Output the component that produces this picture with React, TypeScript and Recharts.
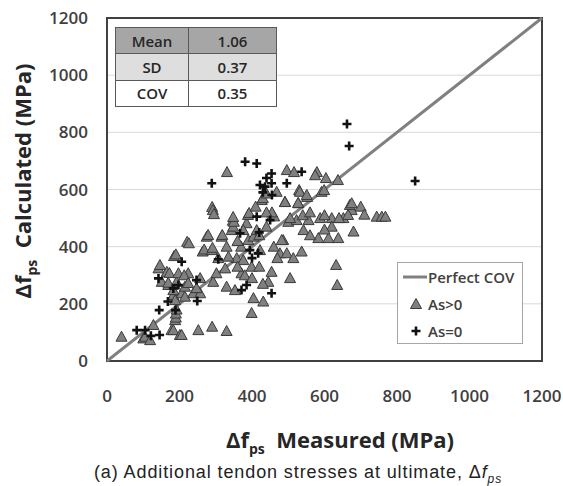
import {
  ScatterChart,
  Scatter,
  XAxis,
  YAxis,
  CartesianGrid,
  ReferenceArea,
} from "recharts";

// measured vs calculated (MPa)
const bondedPoints: [number, number][] = [
  [40, 85], [100, 79], [105, 85], [119, 73], [128, 126], [178, 108], [183, 108], [201, 91], [206, 91], [252, 108], [290, 120], [330, 105],
  [188, 143], [190, 152], [190, 166], [192, 180], [183, 231], [188, 213], [206, 237], [215, 225], [215, 260], [238, 237], [257, 237],
  [183, 248], [151, 277], [169, 266], [169, 274], [192, 277], [142, 324], [165, 312], [172, 308], [197, 307], [224, 307], [213, 300],
  [224, 273], [247, 255], [257, 290], [293, 277], [302, 307], [326, 324],
  [146, 336], [185, 367], [190, 373], [221, 417], [226, 412],
  [264, 383], [268, 390], [289, 388], [291, 396], [275, 435], [279, 441], [316, 435], [318, 441], [307, 360], [330, 400], [344, 458],
  [347, 491], [348, 470], [350, 487], [290, 539], [292, 528], [295, 514], [331, 661],
  [358, 360], [330, 260], [353, 248], [376, 353], [371, 307], [399, 168], [404, 220], [431, 208], [390, 423], [404, 435], [413, 458],
  [422, 388], [399, 330], [445, 277], [454, 312], [486, 423], [477, 377], [496, 377], [505, 290], [500, 487], [523, 493], [542, 458],
  [537, 383], [514, 360], [556, 493], [588, 500], [620, 500], [652, 500], [675, 528], [583, 430], [611, 430], [638, 430], [680, 453],
  [632, 336], [635, 266], [427, 563], [491, 557], [528, 552], [385, 482], [389, 511], [392, 518], [457, 511], [461, 506], [505, 500],
  [376, 458], [482, 423],
  [496, 668], [516, 661], [579, 661], [574, 650], [604, 640], [637, 633], [430, 570], [440, 586], [468, 592], [491, 556], [530, 598],
  [552, 574], [532, 592], [551, 581], [592, 592], [599, 598], [527, 553],
  [670, 546], [675, 552], [665, 511], [744, 505], [758, 505], [768, 505], [348, 504], [455, 520],
  [370, 400], [360, 420], [420, 440], [440, 470], [460, 400], [470, 360], [380, 300], [400, 290], [420, 330], [430, 270], [360, 330],
  [335, 365], [440, 520], [410, 540], [540, 510], [560, 520], [600, 510], [640, 500], [700, 540], [710, 512], [620, 470], [560, 440],
  [600, 460],
];

const unbondedPoints: [number, number][] = [
  [82, 108], [105, 108], [121, 88], [145, 91], [144, 178], [168, 208], [189, 178], [183, 254], [142, 289], [197, 266], [206, 347],
  [247, 283], [249, 210], [307, 356], [371, 248], [385, 266], [413, 505], [450, 493], [394, 388], [417, 377], [367, 447], [454, 237],
  [662, 829], [668, 752], [850, 630], [381, 697], [413, 691], [289, 622], [454, 656], [454, 622], [422, 616], [436, 610], [455, 581],
  [496, 622], [537, 662], [420, 450], [400, 360], [430, 590], [440, 640],
];

const perfectLine: [number, number][] = [
  [0, 0],
  [1200, 1200],
];

const axisTicks = [0, 200, 400, 600, 800, 1000, 1200];
const gridLevels = [200, 400, 600, 800, 1000];

const statLabels = ["Mean", "SD", "COV"];
const statValues = ["1.06", "0.37", "0.35"];
const statFills = ["#a6a6a6", "#dedede", "#ffffff"];

const toXY = (pts: [number, number][]) => pts.map(([x, y]) => ({ x, y }));

const Triangle = (props: any) => {
  const { cx, cy } = props;
  if (cx == null || cy == null) return <g />;
  return (
    <polygon
      points={`${cx},${cy - 5.5} ${cx - 5.5},${cy + 4.5} ${cx + 5.5},${cy + 4.5}`}
      fill="#808080"
      stroke="#3a3a3a"
      strokeWidth={1}
    />
  );
};

const Plus = (props: any) => {
  const { cx, cy } = props;
  if (cx == null || cy == null) return <g />;
  return (
    <path
      d={`M${cx - 4.5},${cy} H${cx + 4.5} M${cx},${cy - 4.5} V${cy + 4.5}`}
      stroke="#111"
      strokeWidth={2.6}
    />
  );
};

const Nothing = () => <g />;

const tickStyle = {
  fontFamily: "'Open Sans', sans-serif",
  fontWeight: 600,
  fontSize: 17,
  fill: "#404040",
};

export default function App() {
  return (
    <div
      style={{
        position: "relative",
        width: 563,
        height: 486,
        background: "#fff",
        overflow: "hidden",
      }}
    >
      <style>{"body{margin:0}"}</style>
      <ScatterChart
        width={563}
        height={486}
        margin={{ top: 18, right: 21, bottom: 95, left: 47 }}
      >
        <CartesianGrid
          vertical={false}
          horizontalValues={gridLevels}
          stroke="#d9d9d9"
          strokeWidth={1}
        />
        <XAxis
          type="number"
          dataKey="x"
          domain={[0, 1200]}
          ticks={axisTicks}
          height={30}
          axisLine={false}
          tickLine={false}
          tickSize={0}
          tickMargin={29}
          tick={tickStyle}
          interval={0}
        />
        <YAxis
          type="number"
          dataKey="y"
          domain={[0, 1200]}
          ticks={axisTicks}
          width={60}
          axisLine={false}
          tickLine={false}
          tickSize={0}
          tickMargin={19}
          tick={tickStyle}
          interval={0}
        />
        <ReferenceArea
          x1={0}
          x2={1200}
          y1={0}
          y2={1200}
          fill="none"
          stroke="#404040"
          strokeWidth={2}
          ifOverflow="visible"
        />
        <Scatter
          data={toXY(perfectLine)}
          line={{ stroke: "#808080", strokeWidth: 3 }}
          shape={Nothing}
          isAnimationActive={false}
        />
        <Scatter
          data={toXY(bondedPoints)}
          shape={Triangle}
          isAnimationActive={false}
        />
        <Scatter
          data={toXY(unbondedPoints)}
          shape={Plus}
          isAnimationActive={false}
        />
      </ScatterChart>

      {/* stats table */}
      <table
        style={{
          position: "absolute",
          left: 115,
          top: 27,
          width: 162,
          height: 80,
          borderCollapse: "collapse",
          fontFamily: "'Open Sans', sans-serif",
          fontWeight: 600,
          fontSize: 15,
          color: "#262626",
        }}
      >
        <tbody>
          {statLabels.map((lab, i) => (
            <tr key={lab} style={{ background: statFills[i], height: 26 }}>
              <td
                style={{
                  border: "1px solid #595959",
                  width: 72,
                  textAlign: "center",
                  padding: 0,
                }}
              >
                {lab}
              </td>
              <td
                style={{
                  border: "1px solid #595959",
                  textAlign: "center",
                  padding: 0,
                }}
              >
                {statValues[i]}
              </td>
            </tr>
          ))}
        </tbody>
      </table>

      {/* legend */}
      <div
        style={{
          position: "absolute",
          left: 397,
          top: 262,
          width: 124,
          height: 80,
          border: "1px solid #a6a6a6",
          background: "#fff",
          fontFamily: "'Open Sans', sans-serif",
          fontWeight: 600,
          fontSize: 15,
          color: "#404040",
        }}
      >
        {[
          { label: "Perfect COV", kind: "line" },
          { label: "As>0", kind: "tri" },
          { label: "As=0", kind: "plus" },
        ].map((it, i) => (
          <div
            key={it.label}
            style={{
              position: "absolute",
              left: 4,
              top: 4 + i * 27,
              height: 20,
              display: "flex",
              alignItems: "center",
              whiteSpace: "nowrap",
            }}
          >
            <svg width={26} height={20}>
              {it.kind === "line" && (
                <line x1={1} y1={10} x2={25} y2={10} stroke="#808080" strokeWidth={3} />
              )}
              {it.kind === "tri" && <Triangle cx={14} cy={10} />}
              {it.kind === "plus" && <Plus cx={14} cy={10} />}
            </svg>
            <span>{it.label}</span>
          </div>
        ))}
      </div>

      {/* y axis title */}
      <div
        style={{
          position: "absolute",
          left: 24,
          top: 181,
          transform: "translate(-50%, -50%) rotate(-90deg)",
          whiteSpace: "nowrap",
          fontFamily: "'Open Sans', sans-serif",
          fontWeight: 700,
          fontSize: 22,
          color: "#262626",
        }}
      >
        Δf<sub style={{ fontSize: 14 }}>ps</sub>&nbsp; Calculated (MPa)
      </div>

      {/* x axis title */}
      <div
        style={{
          position: "absolute",
          left: 340,
          top: 441,
          transform: "translate(-50%, -50%)",
          whiteSpace: "nowrap",
          fontFamily: "'Open Sans', sans-serif",
          fontWeight: 700,
          fontSize: 22,
          color: "#262626",
        }}
      >
        Δf<sub style={{ fontSize: 14 }}>ps</sub>&nbsp; Measured (MPa)
      </div>

      {/* caption */}
      <div
        style={{
          position: "absolute",
          left: 298,
          top: 474,
          transform: "translate(-50%, -50%)",
          whiteSpace: "nowrap",
          fontFamily: "'Liberation Sans', Arial, sans-serif",
          fontSize: 18,
          letterSpacing: 0.9,
          color: "#222",
        }}
      >
        (a) Additional tendon stresses at ultimate, Δ
        <i>f</i>
        <sub style={{ fontSize: 12 }}>
          <i>ps</i>
        </sub>
      </div>
    </div>
  );
}
